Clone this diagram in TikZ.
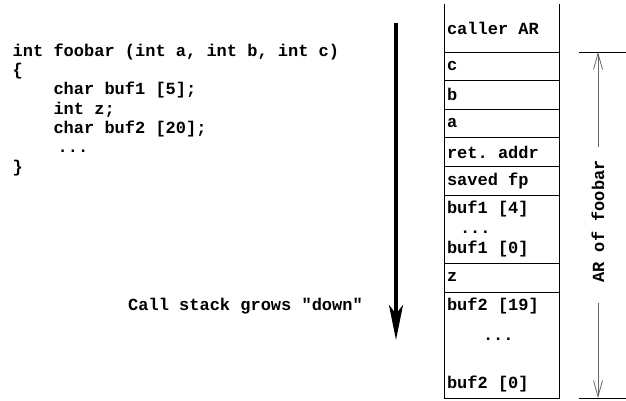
\documentclass[tikz,border=0pt]{standalone}
\usepackage{fontspec}
\setmonofont{Liberation Mono}
\usepackage{tikz}
\usetikzlibrary{arrows.meta,positioning}

\begin{document}
\begin{tikzpicture}[x=1pt,y=1pt,
    every node/.style={font=\ttfamily\bfseries\fontsize{17}{19.3}\selectfont},
    cell/.style={rectangle,draw,line width=0.8pt,minimum width=115pt,text width=109pt,
      inner xsep=3pt,inner ysep=0pt,outer sep=0pt,align=flush left},
    side/.style={line width=0.8pt},
    growarrow/.style={line width=4pt,-{Stealth[length=35pt,width=14pt,inset=9pt]}},
    dimarrow/.style={line width=0.8pt,draw=black!60,-{Straight Barb[length=16pt,width=9pt]}},
    tick/.style={line width=0.8pt}]
      \useasboundingbox (0,0) rectangle (626,401);
      \node[anchor=north west,inner sep=0pt,align=left] (code) at (12.5,357.5)
        {int foobar (int a, int b, int c)\\ \{\\ \phantom{xxxx}char buf1 [5];\\
         \phantom{xxxx}int z;\\ \phantom{xxxx}char buf2 [20];\\ \hspace*{45pt}...\\ \}};
      \node[cell,draw=none,minimum height=48pt,anchor=south west] (caller) at (444,349) {caller AR};
      \draw[side] (caller.south west) -- (caller.north west);
      \draw[side] (caller.south east) -- (caller.north east);
      \node[cell,minimum height=28.6pt,below=0pt of caller] (c) {c};
      \node[cell,minimum height=28.6pt,below=0pt of c] (b) {b};
      \node[cell,minimum height=28.6pt,below=0pt of b] (a) {a};
      \node[cell,minimum height=28.6pt,below=0pt of a] (ret) {ret. addr};
      \node[cell,minimum height=28.6pt,below=0pt of ret] (savedfp) {saved fp};
      \node[cell,minimum height=68pt,below=0pt of savedfp] (buf1)
        {buf1 [4]\\[0pt]\hspace*{13pt}...\\[1pt]buf1 [0]};
      \node[cell,minimum height=29pt,below=0pt of buf1] (z) {z};
      \node[cell,minimum height=106pt,below=0pt of z] (buf2)
        {buf2 [19]\\[10pt]\hspace*{36pt}...\\[29pt]buf2 [0]};
      \coordinate (growtop) at (396,378);
      \coordinate (growtip) at (396,61);
      \draw[growarrow] (growtop) -- (growtip);
      \node[anchor=east,inner sep=0pt] (growlabel) at (363,95) {Call stack grows "down"};
      \coordinate (artop) at (598,349);
      \coordinate (arbot) at (598,3);
      \draw[tick] ([xshift=-19pt]artop) -- ([xshift=28pt]artop);
      \draw[tick] ([xshift=-19pt]arbot) -- ([xshift=28pt]arbot);
      \node[rotate=90,inner sep=0pt] (arlabel) at (598,179.5) {AR of foobar};
      \draw[dimarrow] ([yshift=13pt]arlabel.east) -- (artop);
      \draw[dimarrow] ([yshift=-20pt]arlabel.west) -- (arbot);
    \end{tikzpicture}
\end{document}
